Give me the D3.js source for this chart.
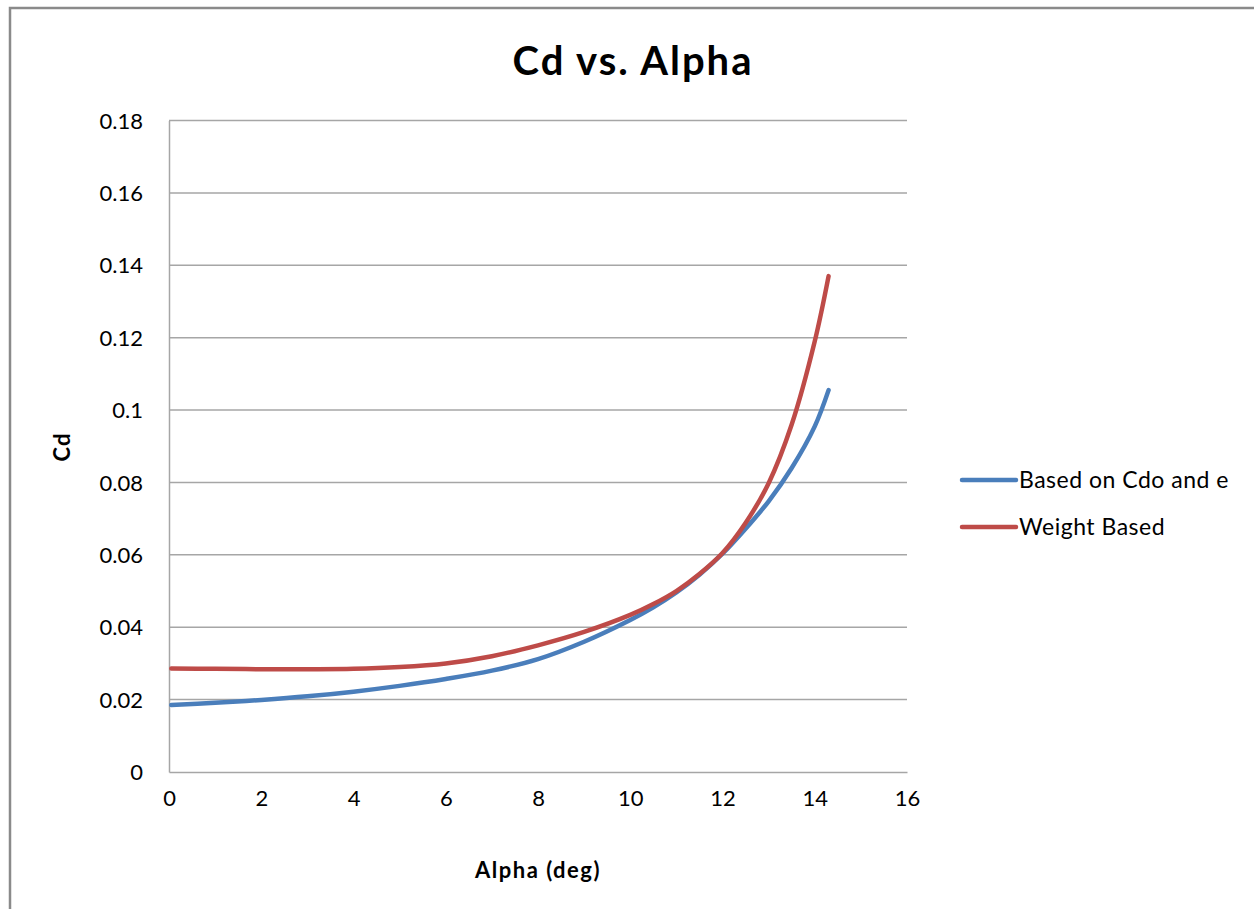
<!DOCTYPE html>
<html>
<head>
<meta charset="utf-8">
<script src="https://cdn.jsdelivr.net/npm/d3@7"></script>
<style>
  html, body { margin: 0; padding: 0; background: #fff; }
  svg { display: block; }
  text { font-family: Lato, "Open Sans", "Liberation Sans", sans-serif; fill: #000; }
</style>
</head>
<body>
<svg id="chart" width="1254" height="909"></svg>
<script>
// Angle of attack samples (deg)
const alpha = [0.05, 1, 2, 3, 4, 5, 6, 7, 8, 9, 10, 10.5, 11, 11.5, 12, 12.5, 13, 13.5, 14, 14.3];

// Drag coefficient, parabolic polar from Cdo and e
const cdBlue = [0.0185, 0.0191, 0.0199, 0.0209, 0.0222, 0.0238, 0.0257, 0.0280, 0.0312, 0.0360,
                0.0420, 0.0455, 0.0496, 0.0545, 0.0603, 0.0672, 0.0748, 0.0840, 0.0955, 0.1055];

// Drag coefficient, weight based estimate
const cdRed  = [0.0286, 0.0285, 0.0284, 0.0284, 0.0285, 0.0290, 0.0300, 0.0320, 0.0350, 0.0387,
                0.0434, 0.0464, 0.0500, 0.0547, 0.0605, 0.0688, 0.0798, 0.0960, 0.1190, 0.1370];

const seriesNames  = ["Based on Cdo and e", "Weight Based"];
const seriesColors = ["#4a7ebb", "#be4b48"];

const xTicks = [0, 2, 4, 6, 8, 10, 12, 14, 16];
const yTicks = [0, 0.02, 0.04, 0.06, 0.08, 0.1, 0.12, 0.14, 0.16, 0.18];

const svg = d3.select("#chart");

// Outer chart frame
svg.append("rect")
  .attr("x", 10).attr("y", 8)
  .attr("width", 1300).attr("height", 1000)
  .attr("fill", "#fff")
  .attr("stroke", "#8a8a8a")
  .attr("stroke-width", 2.5);

const plot = { left: 169, top: 120.5, right: 907, bottom: 772 };

const x = d3.scaleLinear().domain([0, 16]).range([plot.left, plot.right]);
const y = d3.scaleLinear().domain([0, 0.18]).range([plot.bottom, plot.top]);

// Horizontal gridlines
svg.append("g")
  .selectAll("line")
  .data(yTicks.filter(d => d > 0))
  .join("line")
  .attr("x1", plot.left).attr("x2", plot.right)
  .attr("y1", d => y(d)).attr("y2", d => y(d))
  .attr("stroke", "#a6a6a6")
  .attr("stroke-width", 1.5);

// Y axis
const yAxis = svg.append("g")
  .attr("transform", `translate(${plot.left},0)`)
  .call(d3.axisLeft(y).tickValues(yTicks).tickSize(0).tickPadding(26)
    .tickFormat(d => d === 0 ? "0" : String(+d.toFixed(2))));
yAxis.select(".domain").attr("stroke", "#a6a6a6").attr("stroke-width", 1.5);
yAxis.selectAll("text").style("font-size", "22px").attr("dy", "0.35em");

// X axis
const xAxis = svg.append("g")
  .attr("transform", `translate(0,${plot.bottom})`)
  .call(d3.axisBottom(x).tickValues(xTicks).tickSize(0).tickPadding(34).tickFormat(d3.format("d")));
xAxis.select(".domain").attr("stroke", "#a6a6a6").attr("stroke-width", 1.5);
xAxis.selectAll("text").style("font-size", "22px").attr("dy", "0");

// Curves
const line = d3.line()
  .x(d => x(d[0]))
  .y(d => y(d[1]))
  .curve(d3.curveCatmullRom.alpha(0.5));

const series = [
  d3.zip(alpha, cdBlue),
  d3.zip(alpha, cdRed)
];

svg.append("g")
  .selectAll("path")
  .data(series)
  .join("path")
  .attr("d", line)
  .attr("fill", "none")
  .attr("stroke", (d, i) => seriesColors[i])
  .attr("stroke-width", 4.5)
  .attr("stroke-linecap", "round");

// Title
svg.append("text")
  .attr("x", 633).attr("y", 75)
  .attr("text-anchor", "middle")
  .style("font-size", "40px")
  .style("font-weight", "bold")
  .style("letter-spacing", "2px")
  .text("Cd vs. Alpha");

// Axis titles
svg.append("text")
  .attr("transform", "translate(70,447) rotate(-90)")
  .attr("text-anchor", "middle")
  .style("font-size", "22px")
  .style("font-weight", "bold")
  .style("letter-spacing", "1px")
  .text("Cd");

svg.append("text")
  .attr("x", 538).attr("y", 878)
  .attr("text-anchor", "middle")
  .style("font-size", "22px")
  .style("font-weight", "bold")
  .style("letter-spacing", "1.5px")
  .text("Alpha (deg)");

// Legend
const legend = svg.append("g")
  .selectAll("g")
  .data(seriesNames)
  .join("g")
  .attr("transform", (d, i) => `translate(962,${480 + i * 47})`);

legend.append("line")
  .attr("x1", 0).attr("x2", 54)
  .attr("stroke", (d, i) => seriesColors[i])
  .attr("stroke-width", 4.5)
  .attr("stroke-linecap", "round");

legend.append("text")
  .attr("x", 57).attr("y", 0)
  .attr("dy", "0.35em")
  .style("font-size", "23px")
  .style("letter-spacing", "0.5px")
  .text(d => d);
</script>
</body>
</html>
